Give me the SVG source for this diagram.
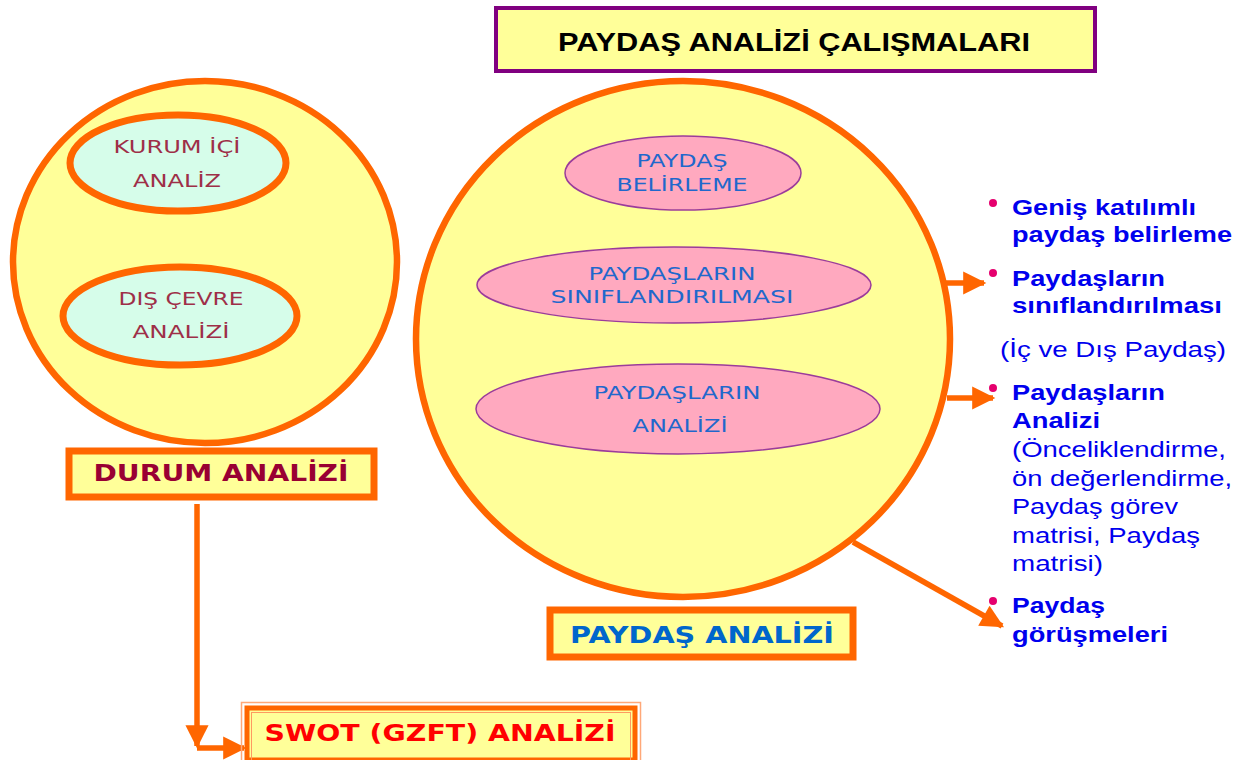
<svg xmlns="http://www.w3.org/2000/svg" width="1244" height="760" viewBox="0 0 1244 760">
<style>
.big{fill:#FFFF99;stroke:#FF6600;stroke-width:6.5}
.mint{fill:#D6FDEA;stroke:#FF6600;stroke-width:7}
.pink{fill:#FFA9BF;stroke:#9B3C9B;stroke-width:1.5}
.box{fill:#FFFF99;stroke:#FF6600;stroke-width:7}
.lt{font-family:"DejaVu Sans",Verdana,sans-serif;font-size:18px;fill:#9E2F48;text-anchor:middle}
.pt{font-family:"DejaVu Sans",Verdana,sans-serif;font-size:17px;fill:#1F68CC;text-anchor:middle}
.bt{font-family:"DejaVu Sans",Verdana,sans-serif;font-size:23px;font-weight:bold;text-anchor:middle}
.rt{font-family:"Liberation Sans",Arial,sans-serif;font-size:22px;fill:#0000EE}
.rb{font-weight:bold}
.dot{fill:#E5006E}
.con{stroke:#FF6600;stroke-width:5.5;fill:none}
</style>
<defs>
<marker id="ah" viewBox="0 0 10 10" refX="9" refY="5" markerWidth="4.4" markerHeight="4.2" orient="auto" markerUnits="strokeWidth">
<path d="M0,0 L10,5 L0,10 z" fill="#FF6600"/>
</marker>
</defs>
<rect width="1244" height="760" fill="#FFFFFF"/>

<g id="title">
<rect x="496" y="8" width="599" height="63" fill="#FFFF99" stroke="#800080" stroke-width="4"/>
<text x="794" y="51" font-family="Liberation Sans,Arial,sans-serif" font-size="25" font-weight="bold" fill="#000" text-anchor="middle" textLength="472" lengthAdjust="spacingAndGlyphs">PAYDAŞ ANALİZİ ÇALIŞMALARI</text>
</g>

<g id="connectors">
<path class="con" d="M197,504 L197,746" marker-end="url(#ah)"/>
<path class="con" d="M197,748 L244,748" marker-end="url(#ah)"/>
<path class="con" d="M944,283 L984,283" marker-end="url(#ah)"/>
<path class="con" d="M947,398 L993,398" marker-end="url(#ah)"/>
<path class="con" d="M853,542 L1002,626" marker-end="url(#ah)"/>
</g>

<g id="durum-circle">
<ellipse class="big" cx="205" cy="262" rx="192" ry="181"/>
</g>
<g id="kurum-ici">
<ellipse class="mint" cx="178" cy="163" rx="108" ry="48"/>
<text class="lt" x="177" y="153" textLength="127" lengthAdjust="spacingAndGlyphs">KURUM İÇİ</text>
<text class="lt" x="177" y="187" textLength="88" lengthAdjust="spacingAndGlyphs">ANALİZ</text>
</g>
<g id="dis-cevre">
<ellipse class="mint" cx="180" cy="316" rx="117" ry="49"/>
<text class="lt" x="181" y="305" textLength="125" lengthAdjust="spacingAndGlyphs">DIŞ ÇEVRE</text>
<text class="lt" x="181" y="338" textLength="97" lengthAdjust="spacingAndGlyphs">ANALİZİ</text>
</g>
<g id="durum-analizi">
<rect class="box" x="69" y="451" width="305" height="46"/>
<text class="bt" x="221" y="481" fill="#990033" textLength="255" lengthAdjust="spacingAndGlyphs">DURUM ANALİZİ</text>
</g>

<g id="swot">
<rect x="241.5" y="702.5" width="399" height="62" fill="none" stroke="#FFA878" stroke-width="1.5"/>
<rect x="247" y="708" width="388" height="52" fill="#FFFF99" stroke="#FF6600" stroke-width="5"/>
<rect x="251.5" y="712.5" width="379" height="50" fill="none" stroke="#FF9A60" stroke-width="1"/>
<text class="bt" x="440" y="741" fill="#FF0000" textLength="351" lengthAdjust="spacingAndGlyphs">SWOT (GZFT) ANALİZİ</text>
</g>

<g id="paydas-circle">
<ellipse class="big" cx="683" cy="339" rx="267" ry="258"/>
</g>
<g id="paydas-belirleme">
<ellipse class="pink" cx="683" cy="173" rx="118" ry="37"/>
<text class="pt" x="682" y="167" textLength="91" lengthAdjust="spacingAndGlyphs">PAYDAŞ</text>
<text class="pt" x="682" y="191" textLength="131" lengthAdjust="spacingAndGlyphs">BELİRLEME</text>
</g>
<g id="paydas-sinif">
<ellipse class="pink" cx="674" cy="285" rx="197" ry="38"/>
<text class="pt" x="672" y="280" textLength="167" lengthAdjust="spacingAndGlyphs">PAYDAŞLARIN</text>
<text class="pt" x="672" y="303" textLength="243" lengthAdjust="spacingAndGlyphs">SINIFLANDIRILMASI</text>
</g>
<g id="paydas-analiz">
<ellipse class="pink" cx="678" cy="409" rx="202" ry="45"/>
<text class="pt" x="677" y="399" textLength="167" lengthAdjust="spacingAndGlyphs">PAYDAŞLARIN</text>
<text class="pt" x="680" y="432" textLength="95" lengthAdjust="spacingAndGlyphs">ANALİZİ</text>
</g>
<g id="paydas-analizi-label">
<rect class="box" x="550" y="610" width="303" height="47"/>
<text class="bt" x="702" y="643" fill="#0066CC" textLength="264" lengthAdjust="spacingAndGlyphs">PAYDAŞ ANALİZİ</text>
</g>

<g id="list">
<circle class="dot" cx="993" cy="203" r="4"/>
<text class="rt rb" x="1012" y="215" textLength="184" lengthAdjust="spacingAndGlyphs">Geniş katılımlı</text>
<text class="rt rb" x="1012" y="242" textLength="220" lengthAdjust="spacingAndGlyphs">paydaş belirleme</text>
<circle class="dot" cx="993" cy="273" r="4"/>
<text class="rt rb" x="1012" y="286" textLength="153" lengthAdjust="spacingAndGlyphs">Paydaşların</text>
<text class="rt rb" x="1012" y="313" textLength="210" lengthAdjust="spacingAndGlyphs">sınıflandırılması</text>
<text class="rt" x="1000" y="357" textLength="226" lengthAdjust="spacingAndGlyphs">(İç ve Dış Paydaş)</text>
<circle class="dot" cx="993" cy="388" r="4"/>
<text class="rt rb" x="1012" y="400" textLength="153" lengthAdjust="spacingAndGlyphs">Paydaşların</text>
<text class="rt rb" x="1012" y="428" textLength="88" lengthAdjust="spacingAndGlyphs">Analizi</text>
<text class="rt" x="1012" y="457" textLength="214" lengthAdjust="spacingAndGlyphs">(Önceliklendirme,</text>
<text class="rt" x="1012" y="486" textLength="220" lengthAdjust="spacingAndGlyphs">ön değerlendirme,</text>
<text class="rt" x="1012" y="514" textLength="166" lengthAdjust="spacingAndGlyphs">Paydaş görev</text>
<text class="rt" x="1012" y="543" textLength="188" lengthAdjust="spacingAndGlyphs">matrisi, Paydaş</text>
<text class="rt" x="1012" y="571" textLength="91" lengthAdjust="spacingAndGlyphs">matrisi)</text>
<circle class="dot" cx="993" cy="601" r="4"/>
<text class="rt rb" x="1012" y="613" textLength="93" lengthAdjust="spacingAndGlyphs">Paydaş</text>
<text class="rt rb" x="1012" y="642" textLength="156" lengthAdjust="spacingAndGlyphs">görüşmeleri</text>
</g>
</svg>
